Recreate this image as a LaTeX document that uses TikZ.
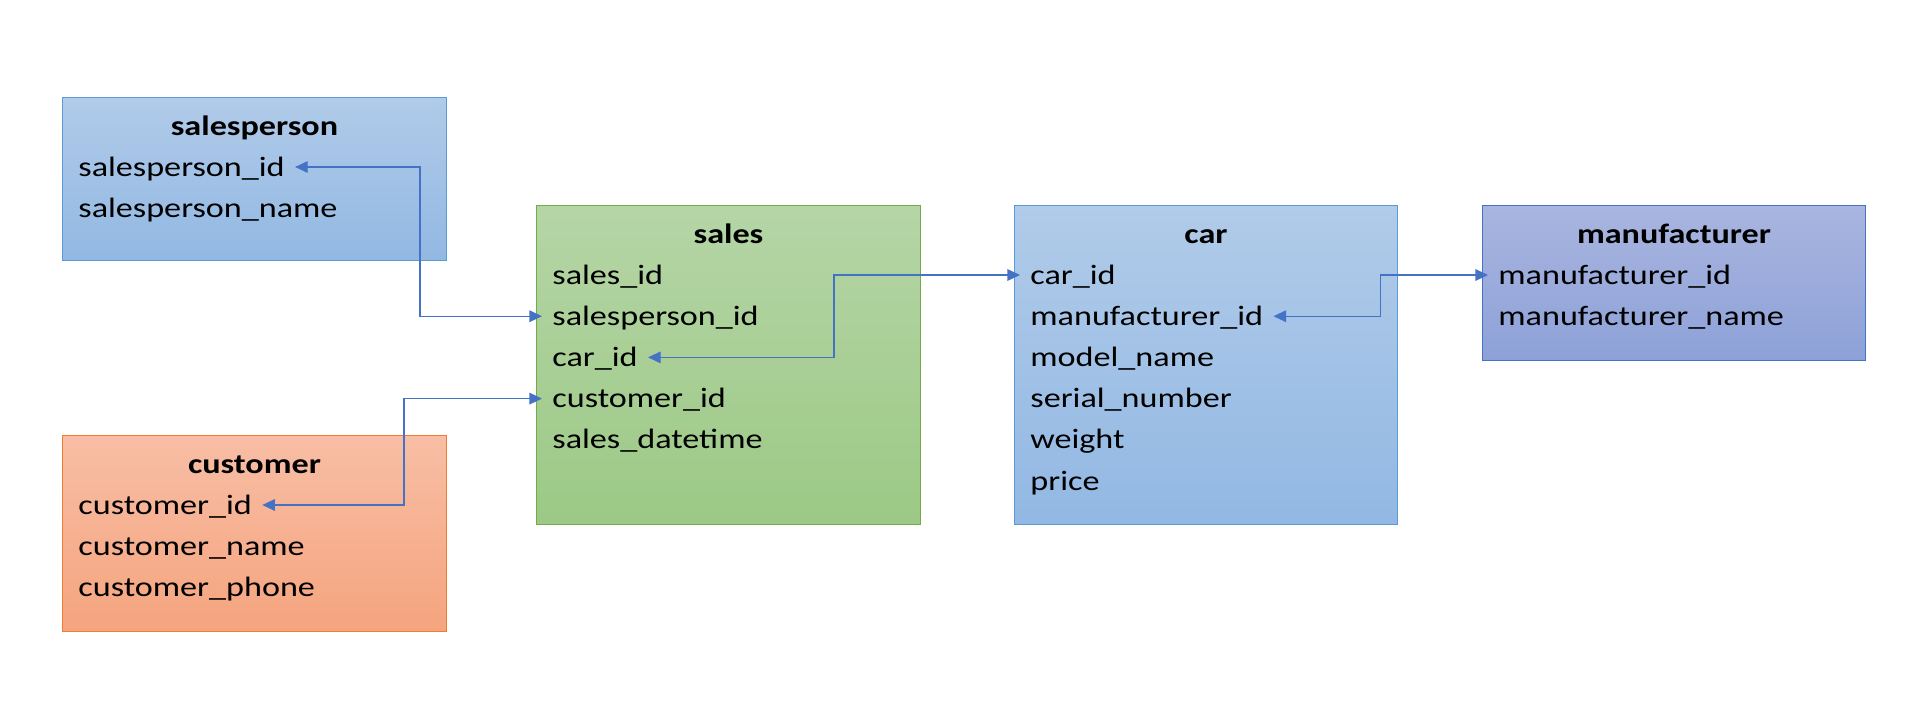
\documentclass[tikz,border=0pt]{standalone}
\usepackage{fontspec}
\usepackage{tikz}
\usetikzlibrary{arrows.meta}
\newfontfamily\tabfont[FakeStretch=1.22]{Carlito}

\definecolor{blueline}{HTML}{5B9BD5}
\definecolor{bluetop}{HTML}{B1CBE9}
\definecolor{bluebot}{HTML}{92B8E3}
\definecolor{greenline}{HTML}{70AD47}
\definecolor{greentop}{HTML}{B5D5A6}
\definecolor{greenbot}{HTML}{9CC985}
\definecolor{orangeline}{HTML}{ED7D31}
\definecolor{orangetop}{HTML}{F8BEA5}
\definecolor{orangebot}{HTML}{F5A47E}
\definecolor{navyline}{HTML}{4472C4}
\definecolor{navytop}{HTML}{A9B5DF}
\definecolor{navybot}{HTML}{8DA1D8}
\definecolor{linkcol}{HTML}{4472C4}

\tikzset{
  tablebox/.style args={#1/#2/#3}{draw=#1, top color=#2, bottom color=#3,
    line width=0.5pt, anchor=north west, inner sep=0pt},
  field/.style={font=\tabfont\fontsize{14pt}{16pt}\selectfont,
    text height=9pt, text depth=0pt, inner xsep=5pt, inner ysep=0pt, anchor=west},
  head/.style={field, anchor=center, font=\tabfont\bfseries\fontsize{14pt}{16pt}\selectfont},
  link/.style={draw=linkcol, line width=0.6pt,
    {Triangle[length=6.3pt,width=5.8pt]}-{Triangle[length=6.3pt,width=5.8pt]}}
}

\begin{document}
\begin{tikzpicture}[x=0.5pt,y=-0.5pt]
\useasboundingbox (0,0) rectangle (1927,718);

% tables
\node[tablebox=blueline/bluetop/bluebot, minimum width=192pt, minimum height=81.5pt] (salesperson) at (62,97) {};
\node[tablebox=greenline/greentop/greenbot, minimum width=192pt, minimum height=159.5pt] (sales) at (536,205) {};
\node[tablebox=orangeline/orangetop/orangebot, minimum width=192pt, minimum height=98pt] (customer) at (62,435) {};
\node[tablebox=blueline/bluetop/bluebot, minimum width=191.5pt, minimum height=159.5pt] (car) at (1014,205) {};
\node[tablebox=navyline/navytop/navybot, minimum width=191.5pt, minimum height=77.5pt] (manufacturer) at (1482,205) {};

\node[head] (sp-t) at ([yshift=-14.7pt]salesperson.north) {salesperson};
\foreach \f [count=\i] in {salesperson\_id, salesperson\_name}
  \node[field] (sp-\i) at ([xshift=3pt,yshift={-14.4pt-20.6pt*\i}]salesperson.north west) {\f};

\node[head] (sales-t) at ([yshift=-14.7pt]sales.north) {sales};
\foreach \f [count=\i] in {sales\_id, salesperson\_id, car\_id, customer\_id, sales\_datetime}
  \node[field] (sales-\i) at ([xshift=3pt,yshift={-14.4pt-20.6pt*\i}]sales.north west) {\f};

\node[head] (cust-t) at ([yshift=-14.7pt]customer.north) {customer};
\foreach \f [count=\i] in {customer\_id, customer\_name, customer\_phone}
  \node[field] (cust-\i) at ([xshift=3pt,yshift={-14.4pt-20.6pt*\i}]customer.north west) {\f};

\node[head] (car-t) at ([yshift=-14.7pt]car.north) {car};
\foreach \f [count=\i] in {car\_id, manufacturer\_id, model\_name, serial\_number, weight, price}
  \node[field] (car-\i) at ([xshift=3pt,yshift={-14.4pt-20.6pt*\i}]car.north west) {\f};

\node[head] (man-t) at ([yshift=-14.7pt]manufacturer.north) {manufacturer};
\foreach \f [count=\i] in {manufacturer\_id, manufacturer\_name}
  \node[field] (man-\i) at ([xshift=3pt,yshift={-14.4pt-20.6pt*\i}]manufacturer.north west) {\f};

% keys
\draw[link] (sales-2.west) -- ++(-122,0) |- (sp-1.east);
\draw[link] (sales-4.west) -- ++(-138,0) |- (cust-1.east);
\draw[link] (sales-3.east) -- ++(186,0) |- (car-1.west);
\draw[link] (car-2.east) -- ++(107,0) |- (man-1.west);
\end{tikzpicture}
\end{document}
